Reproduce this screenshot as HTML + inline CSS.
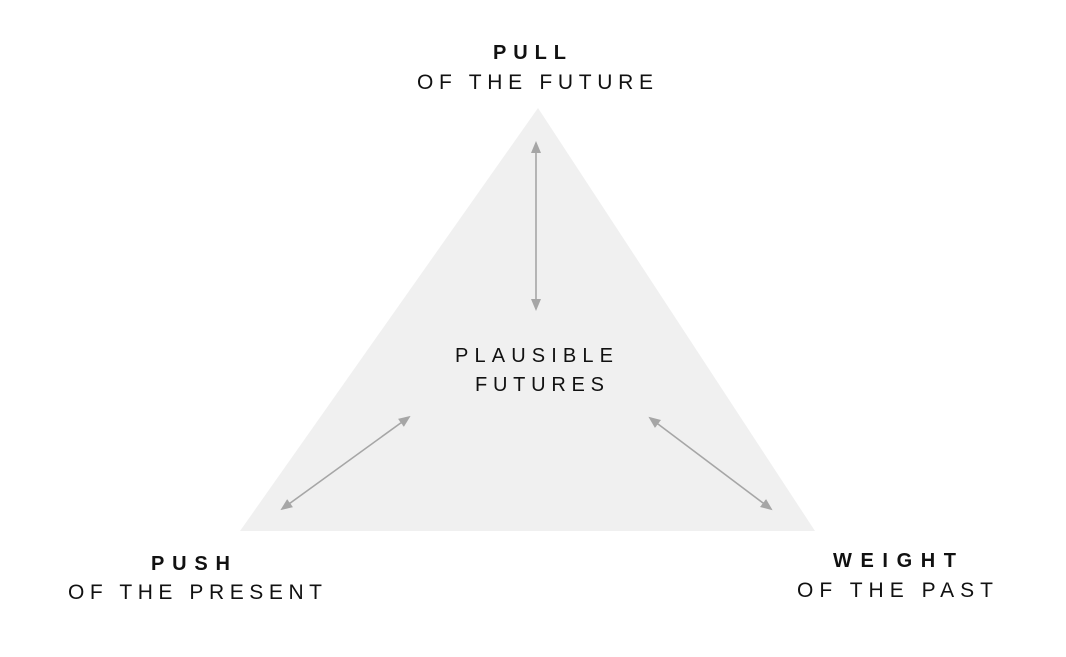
<!DOCTYPE html>
<html><head><style>html,body{margin:0;padding:0;background:#fff;}svg{display:block}</style></head>
<body>
<svg width="1066" height="657" viewBox="0 0 1066 657" xmlns="http://www.w3.org/2000/svg">
<defs>
<marker id="a" markerWidth="12" markerHeight="12" refX="10" refY="6" orient="auto-start-reverse" markerUnits="userSpaceOnUse" viewBox="0 0 12 12">
<path d="M0,1 L12,6 L0,11 z" fill="#a6a6a6"/></marker>
</defs>
<polygon points="538,108 240,531 815,531" fill="#f0f0f0"/>
<g stroke="#a6a6a6" stroke-width="1.6" fill="none">
<line x1="536" y1="143" x2="536" y2="309" marker-start="url(#a)" marker-end="url(#a)"/>
<line x1="409" y1="417" x2="282" y2="509" marker-start="url(#a)" marker-end="url(#a)"/>
<line x1="650" y1="418" x2="771" y2="509" marker-start="url(#a)" marker-end="url(#a)"/>
</g>
<g font-family="Liberation Sans, sans-serif" fill="#111">
<text x="493" y="59" font-size="20" font-weight="bold" textLength="73" lengthAdjust="spacing">PULL</text>
<text x="417" y="89" font-size="21" textLength="236" lengthAdjust="spacing">OF THE FUTURE</text>
<text x="455" y="362" font-size="20" textLength="158" lengthAdjust="spacing">PLAUSIBLE</text>
<text x="475" y="391" font-size="20" textLength="129" lengthAdjust="spacing">FUTURES</text>
<text x="151" y="570" font-size="20" font-weight="bold" textLength="79" lengthAdjust="spacing">PUSH</text>
<text x="68" y="599" font-size="21" textLength="254" lengthAdjust="spacing">OF THE PRESENT</text>
<text x="833" y="567" font-size="20" font-weight="bold" textLength="123" lengthAdjust="spacing">WEIGHT</text>
<text x="797" y="597" font-size="21" textLength="196" lengthAdjust="spacing">OF THE PAST</text>
</g>
</svg>
</body></html>
